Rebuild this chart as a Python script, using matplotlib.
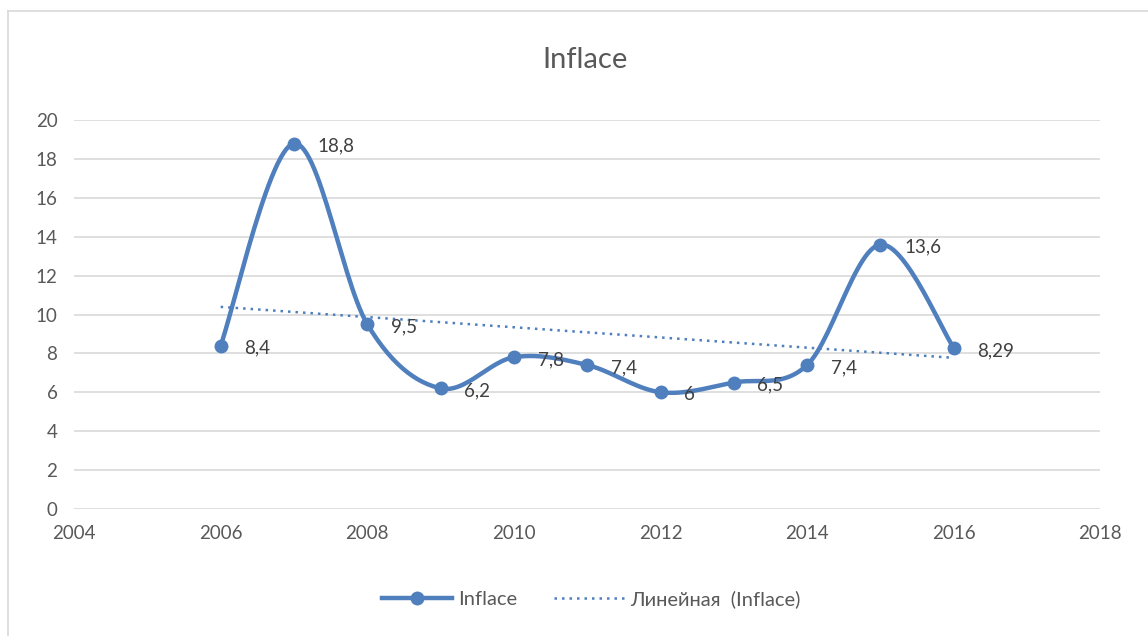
import matplotlib
matplotlib.use('Agg')
import matplotlib.pyplot as plt
import numpy as np

years = [2006, 2007, 2008, 2009, 2010, 2011, 2012, 2013, 2014, 2015, 2016]
inflace = [8.4, 18.8, 9.5, 6.2, 7.8, 7.4, 6.0, 6.5, 7.4, 13.6, 8.29]
labels = ['8,4', '18,8', '9,5', '6,2', '7,8', '7,4', '6', '6,5', '7,4', '13,6', '8,29']
xticks = [2004, 2006, 2008, 2010, 2012, 2014, 2016, 2018]
yticks = [0, 2, 4, 6, 8, 10, 12, 14, 16, 18, 20]

plt.rcParams['font.family'] = ['Lato', 'Noto Sans', 'DejaVu Sans']
blue = '#4F7FBD'
grey = '#595959'


def smooth(xs, ys, n=30):
    # Catmull-Rom style smoothing, similar to Excel's smoothed line
    x = np.asarray(xs, float)
    y = np.asarray(ys, float)
    px = np.concatenate([[x[0]], x, [x[-1]]])
    py = np.concatenate([[y[0]], y, [y[-1]]])
    outx, outy = [], []
    t = np.linspace(0, 1, n)
    for i in range(1, len(px) - 2):
        p0 = np.array([px[i], py[i]])
        p3 = np.array([px[i + 1], py[i + 1]])
        c1 = p0 + (np.array([px[i + 1], py[i + 1]]) - np.array([px[i - 1], py[i - 1]])) / 6
        c2 = p3 - (np.array([px[i + 2], py[i + 2]]) - np.array([px[i], py[i]])) / 6
        b = ((1 - t) ** 3)[:, None] * p0 + (3 * (1 - t) ** 2 * t)[:, None] * c1 \
            + (3 * (1 - t) * t ** 2)[:, None] * c2 + (t ** 3)[:, None] * p3
        outx.extend(b[:, 0])
        outy.extend(b[:, 1])
    return outx, outy


fig = plt.figure(figsize=(11.48, 6.36), dpi=100)
ax = fig.add_axes([0.0645, 0.2, 0.894, 0.611])

sx, sy = smooth(years, inflace)
ax.plot(sx, sy, color=blue, lw=3.2, solid_capstyle='round', zorder=3)
ax.plot(years, inflace, 'o', color=blue, ms=9, zorder=4)
# legend proxy
ax.plot([], [], '-o', color=blue, lw=3.2, ms=9, label='Inflace')

k, q = np.polyfit(years, inflace, 1)
tx = np.array([years[0], years[-1]])
ax.plot(tx, k * tx + q, color=blue, lw=1.8, ls=(0, (1, 2)), zorder=2,
        label='Линейная  (Inflace)')

for x, y, s in zip(years, inflace, labels):
    ax.annotate(s, (x, y), xytext=(17, -2), textcoords='offset points',
                ha='left', va='center', fontsize=13.5, color='#404040')

ax.set_xlim(2004, 2018)
ax.set_ylim(0, 20)
ax.set_xticks(xticks)
ax.set_yticks(yticks)
ax.grid(axis='y', color='#D9D9D9', lw=1.2)
ax.set_axisbelow(True)
for s in ax.spines.values():
    s.set_visible(False)
ax.tick_params(length=0, labelsize=13.5, labelcolor=grey, pad=12)
ax.tick_params(axis='x', pad=12)

fig.text(0.51, 0.905, 'Inflace', ha='center', va='center', fontsize=21, color=grey)

leg = fig.legend(loc='center', bbox_to_anchor=(0.515, 0.058), ncol=2, frameon=False,
                 fontsize=14.5, handlelength=3.5, columnspacing=1.8, handletextpad=0.3)
for t in leg.get_texts():
    t.set_color(grey)

# chart border
fig.add_artist(plt.Line2D([8 / 1148, 8 / 1148], [0, 1 - 11 / 636], color='#D9D9D9', lw=1.2))
fig.add_artist(plt.Line2D([8 / 1148, 1], [1 - 11 / 636, 1 - 11 / 636], color='#D9D9D9', lw=1.2))

fig.savefig('out.png', dpi=100, facecolor='white')
